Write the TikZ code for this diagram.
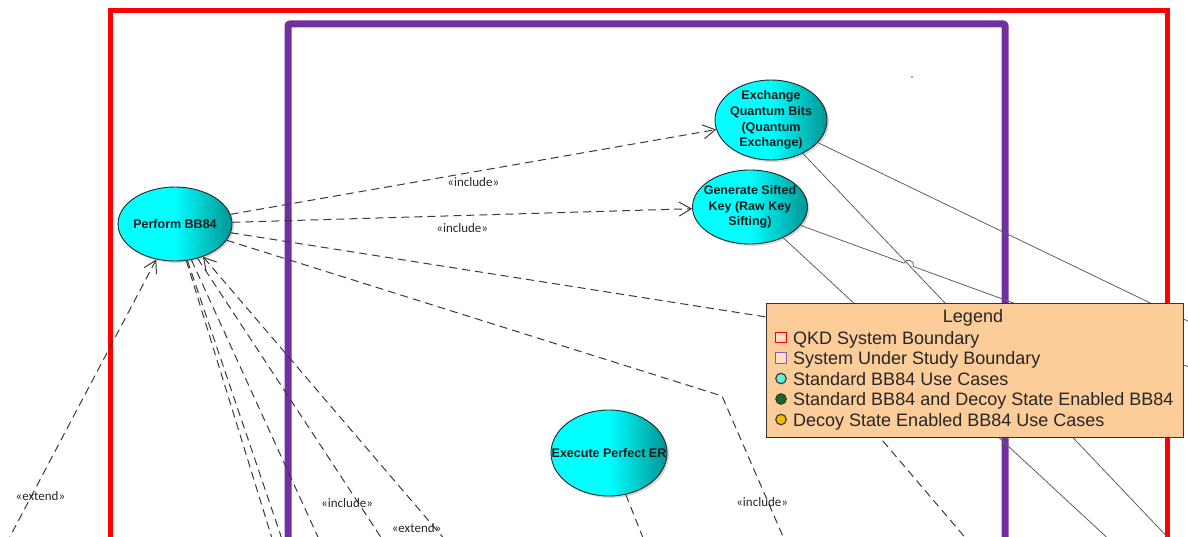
\documentclass[tikz,border=0pt]{standalone}
\usepackage{fontspec}
\setmainfont{Liberation Sans}
\newfontfamily\lblfont{Carlito}
\usetikzlibrary{arrows.meta,shapes.geometric,shadows,calc,intersections}

\definecolor{qkdred}{RGB}{255,0,0}
\definecolor{sysviolet}{RGB}{112,48,160}
\definecolor{ucdark}{RGB}{0,148,148}
\definecolor{legendfill}{RGB}{252,204,153}
\definecolor{linkgray}{RGB}{58,58,58}
\definecolor{assocgray}{RGB}{95,95,95}
\definecolor{stdcase}{RGB}{95,240,215}
\definecolor{bothcase}{RGB}{25,105,35}
\definecolor{decoycase}{RGB}{240,190,0}

% use case fill: plain cyan on the left half, darkening towards the right rim
\pgfdeclarehorizontalshading{ucshade}{100bp}{color(0bp)=(cyan); color(50bp)=(cyan); color(75bp)=(ucdark); color(100bp)=(ucdark)}

\begin{document}
\begin{tikzpicture}[x=1pt,y=-1pt,
  usecase/.style={ellipse, draw=black!85, line width=0.9pt, shading=ucshade,
    drop shadow={shadow xshift=2pt, shadow yshift=-2pt, opacity=0.3}, inner sep=0pt},
  uctext/.style={font=\bfseries\fontsize{12.5}{15.6}\selectfont, align=center, text=black!90},
  dep/.style={draw=linkgray, line width=1pt, dash pattern=on 8pt off 5pt},
  tip/.style={-{Straight Barb[length=12pt,width=14pt]}},
  rtip/.style={{Straight Barb[length=12pt,width=14pt]}-},
  assoc/.style={draw=assocgray, line width=0.8pt},
  lbl/.style={font=\lblfont\fontsize{13}{15}\selectfont, text=black!85, inner sep=0pt},
  legmark/.style={minimum size=10.5pt, inner sep=0pt, line width=1.1pt},
  legtext/.style={font=\fontsize{18}{21}\selectfont, text=black!85, anchor=base west, inner sep=0pt}
]
\useasboundingbox (0,0) rectangle (1188,537);
\clip (0,0) rectangle (1188,537);

% system boundaries
\draw[qkdred, line width=5pt] (110,11) rectangle (1167,640);
\draw[sysviolet, line width=7pt, rounded corners=2pt] (288,24) rectangle (1005,640);

% use cases
\node[usecase, minimum width=114pt, minimum height=74pt,
  label={[uctext]center:Perform BB84}] (perf) at (175,224) {};
\node[usecase, minimum width=112pt, minimum height=80pt,
  label={[uctext]center:Exchange\\Quantum Bits\\(Quantum\\Exchange)}] (xch) at (771,120) {};
\node[usecase, minimum width=115pt, minimum height=74pt,
  label={[uctext]center:Generate Sifted\\Key (Raw Key\\Sifting)}] (gen) at (750,207) {};
\node[usecase, minimum width=116pt, minimum height=86pt,
  label={[uctext]center:Execute Perfect ER}] (exe) at (609,453) {};

% free ends and bend points of the connectors
\coordinate (b3) at (779,319);
\coordinate (f3) at (974,548);
\coordinate (b4) at (722,396);
\coordinate (f4) at (788,548);
\coordinate (fext) at (4,548);
\coordinate (fa) at (275,548);
\coordinate (fb) at (285,548);
\coordinate (fc) at (323,548);
\coordinate (fd) at (388,548);
\coordinate (fe) at (452,548);
\coordinate (fexe) at (647,548);
\coordinate (xfar1) at (1200,327);
\coordinate (xfar2) at (1175,545);
\coordinate (gfar1) at (1200,371);
\coordinate (gfar2) at (1115,545);

% include / extend dependencies
\draw[dep, tip] (perf) -- node[lbl, below=5pt] {«include»} (xch);
\draw[dep, tip] (perf) -- node[lbl, below=7pt] {«include»} (gen);
\draw[dep] (perf) -- (b3) -- (f3);
\draw[dep] (perf) -- (b4) -- node[lbl, pos=0.7, xshift=-6pt] {«include»} (f4);
\draw[dep, rtip] (perf) -- node[lbl, pos=0.82, xshift=9pt] {«extend»} (fext);
\draw[dep] (perf) -- (fa);
\draw[dep] (perf) -- (fb);
\draw[dep] (perf) -- (fc);
\draw[dep] (perf) -- node[lbl, pos=0.843, xshift=-11pt] {«include»} (fd);
\draw[dep, rtip] (perf) -- node[lbl, pos=0.93, xshift=-18pt] {«extend»} (fe);
\draw[dep] (exe.-68) -- (fexe);

% associations
\draw[assoc] (xch) -- (xfar1);
\draw[assoc, name path=xline] (xch) -- (xfar2);
\path[name path=gline] (gen) -- (gfar1);
\path[name intersections={of=xline and gline, by=hop}];
\draw[assoc] (gen) -- ($(hop)!5pt!(gen)$)
  .. controls ($($(hop)!5pt!(gen)$)!6pt!90:(hop)$) and ($($(hop)!5pt!(gfar1)$)!6pt!-90:(hop)$)
  .. ($(hop)!5pt!(gfar1)$) -- (gfar1);
\draw[assoc] (gen) -- (gfar2);

% stray point
\fill[black!70] (912,77) circle (0.9pt);

% legend
\node[draw=black!80, line width=1pt, fill=legendfill, minimum width=417pt,
  minimum height=134pt, inner sep=0pt] (legend) at (974.5,370) {};
\node[font=\fontsize{18}{21}\selectfont, text=black!85, anchor=base, inner sep=0pt]
  (legtitle) at (973,322) {Legend};
\node[legmark, draw=qkdred, fill=legendfill!60!white] (m1) at (781,337.5) {};
\node[legmark, draw=sysviolet!80, fill=legendfill!60!white] (m2) at (781,358) {};
\node[legmark, circle, draw=black!80, fill=stdcase] (m3) at (781,378.5) {};
\node[legmark, circle, draw=black!80, fill=bothcase] (m4) at (781,399) {};
\node[legmark, circle, draw=black!80, fill=decoycase] (m5) at (781,419.5) {};
\node[legtext] (t1) at (793,344) {QKD System Boundary};
\node[legtext] (t2) at (793,364.5) {System Under Study Boundary};
\node[legtext] (t3) at (793,385) {Standard BB84 Use Cases};
\node[legtext] (t4) at (793,405.5) {Standard BB84 and Decoy State Enabled BB84};
\node[legtext] (t5) at (793,426) {Decoy State Enabled BB84 Use Cases};
\end{tikzpicture}
\end{document}
